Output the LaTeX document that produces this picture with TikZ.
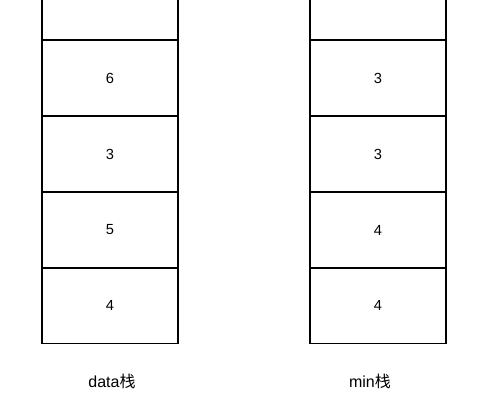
\documentclass[tikz,border=0pt]{standalone}
\usepackage{fontspec}
\setmainfont{Liberation Sans}
\newfontfamily\cjk{Noto Sans CJK SC}
\begin{document}
\begin{tikzpicture}[x=0.75pt,y=-0.75pt,
  cellbox/.style={draw=black,line width=1pt,minimum width=102pt,minimum height=57pt,inner sep=0pt,font=\fontsize{11pt}{13pt}\selectfont},
  caption/.style={font=\fontsize{12pt}{14pt}\selectfont,inner sep=0pt}]
\useasboundingbox (0,0) rectangle (486,402);
\clip (0,0) rectangle (486,402);
% left stack
\node[cellbox] (l0) at (110,2) {};
\node[cellbox] (l1) at (110,78) {6};
\node[cellbox] (l2) at (110,154) {3};
\node[cellbox] (l3) at (110,230) {5};
\node[cellbox] (l4) at (110,305.5) {4};
% right stack
\node[cellbox] (r0) at (378,2) {};
\node[cellbox] (r1) at (378,78) {3};
\node[cellbox] (r2) at (378,154) {3};
\node[cellbox] (r3) at (378,230) {4};
\node[cellbox] (r4) at (378,305.5) {4};
\node[caption] (lc) at (112,381) {data{\cjk 栈}};
\node[caption] (rc) at (370,381) {min{\cjk 栈}};
\end{tikzpicture}
\end{document}
